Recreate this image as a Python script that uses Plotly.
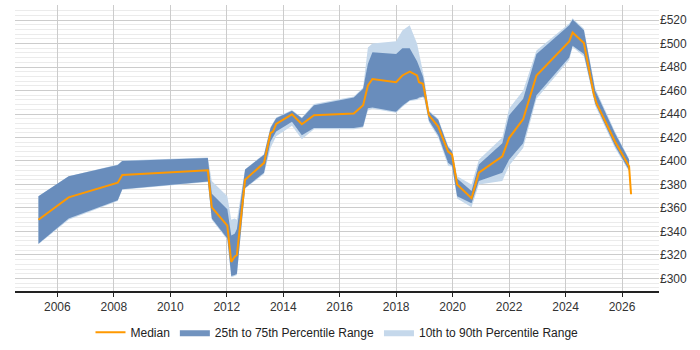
import plotly.graph_objects as go

# Band data (fractional years)
band_x = [2005.33, 2006.4, 2008.14, 2008.3, 2011.33, 2011.47, 2012.02, 2012.16, 2012.28, 2012.36,
          2012.65, 2013.32, 2013.55, 2013.75, 2014.31, 2014.66, 2015.09, 2016.5, 2016.83, 2017.0,
          2017.16, 2018.0, 2018.22, 2018.48, 2018.74, 2018.81, 2018.95, 2019.0, 2019.16, 2019.49,
          2019.84, 2019.98, 2020.16, 2020.67, 2020.93, 2021.76, 2022.0, 2022.5, 2022.97, 2024.13,
          2024.25, 2024.65, 2025.05, 2025.75, 2026.25]
p10 = [329, 350, 366, 375.5, 382, 350, 333, 301, 302, 303,
       376.5, 389, 411, 421, 430, 418.5, 427, 427, 428.5, 443,
       444.5, 441, 446, 451, 452, 453, 454, 452, 433, 420,
       396, 395, 368, 360.5, 380, 383, 396, 411, 453, 486,
       497, 489, 447, 411, 391]
p25 = [329.5, 351, 366.5, 376, 382.5, 351, 334, 302, 303, 304,
       377, 390, 416.6, 425, 433.5, 422, 428, 428, 429.3, 444.8,
       445.6, 442, 447, 451.8, 453, 454, 455, 454, 434.5, 422,
       398.4, 396, 370, 364, 383, 390, 401, 415, 456, 488,
       498, 491, 449, 413, 392]
p75 = [370, 387, 396.5, 400, 402.5, 372, 359, 336.5, 338, 342,
       392.7, 405.4, 428, 436.3, 442.8, 436.3, 447.5, 454, 461.6, 482.7,
       492.6, 491, 496, 496, 485, 480, 472, 466, 442, 435,
       412, 408, 385, 374.5, 397, 415, 439, 453, 491, 515.6,
       520.5, 511.3, 460, 423.7, 401]
p90 = [370, 387, 397, 400.5, 403, 383, 370, 350, 351, 350,
       393, 406, 429, 437, 443.5, 437, 448.5, 455, 462.5, 496.7,
       500, 502, 511, 515.6, 500, 492, 478, 470, 443, 436,
       413, 409, 387, 380, 401, 420, 444.7, 460, 494, 517,
       521.5, 512.5, 462, 425, 402]

# Median data
med_x = [2005.33, 2006.4, 2008.14, 2008.3, 2011.33, 2011.47, 2012.02, 2012.16, 2012.28, 2012.36,
         2012.65, 2013.32, 2013.55, 2013.64, 2013.75, 2014.31, 2014.66, 2015.09, 2016.5, 2016.83,
         2017.0, 2017.16, 2018.0, 2018.22, 2018.48, 2018.74, 2018.81, 2018.95, 2019.0, 2019.16,
         2019.49, 2019.84, 2019.98, 2020.16, 2020.67, 2020.93, 2021.76, 2022.0, 2022.5, 2022.97,
         2024.13, 2024.25, 2024.65, 2025.0, 2025.1, 2025.75, 2026.25, 2026.32]
median = [350, 369, 381.5, 388, 392, 360.5, 345, 314, 318.5, 320,
          384, 398.4, 423.7, 425, 431.5, 439.7, 431.3, 439, 440.5, 447.5,
          464.4, 469.8, 467, 472.8, 476, 472.8, 467, 465.7, 460, 439,
          429.3, 408, 405.4, 380, 368.3, 390, 404, 419.5, 435.7, 472.8,
          501.8, 509.4, 500.4, 457, 449, 416.6, 395.5, 371.7]

year_ticks = [2006, 2008, 2010, 2012, 2014, 2016, 2018, 2020, 2022, 2024, 2026]

dark = "rgba(88,128,180,0.85)"
light = "rgba(197,216,235,1)"
orange = "#ff9900"

fig = go.Figure()
fig.add_trace(go.Scatter(x=band_x, y=p90, mode="lines", line=dict(width=0, color=light),
                         showlegend=False, hoverinfo="skip"))
fig.add_trace(go.Scatter(x=band_x, y=p10, mode="lines", line=dict(width=0, color=light),
                         fill="tonexty", fillcolor=light, name="10th to 90th Percentile Range",
                         legendrank=3))
fig.add_trace(go.Scatter(x=band_x, y=p75, mode="lines", line=dict(width=0, color=dark),
                         showlegend=False, hoverinfo="skip"))
fig.add_trace(go.Scatter(x=band_x, y=p25, mode="lines", line=dict(width=0, color=dark),
                         fill="tonexty", fillcolor=dark, name="25th to 75th Percentile Range",
                         legendrank=2))
fig.add_trace(go.Scatter(x=med_x, y=median, mode="lines", line=dict(width=2, color=orange),
                         name="Median", legendrank=1))

fig.update_layout(
    width=700, height=350,
    margin=dict(l=15, r=41, t=5, b=57.5),
    paper_bgcolor="white", plot_bgcolor="white",
    font=dict(family="Liberation Sans, Arial, sans-serif", size=12, color="#333333"),
    showlegend=True,
    legend=dict(orientation="h", x=0.5, xanchor="center", y=-0.14, yanchor="middle",
                font=dict(size=12, color="#222222"), itemwidth=30, traceorder="normal"),
    xaxis=dict(
        range=[2004.5, 2027.31], tickmode="array", tickvals=year_ticks,
        ticktext=[str(y) for y in year_ticks],
        showgrid=True, gridcolor="#cccccc", gridwidth=1,
        showline=True, linecolor="#222222", linewidth=1.5,
        ticks="outside", ticklen=4, tickcolor="#222222",
        zeroline=False, tickfont=dict(size=12),
    ),
    yaxis=dict(
        range=[289.3, 532.8], side="right", dtick=20, tick0=0, tickprefix="£",
        showgrid=True, gridcolor="#cccccc", gridwidth=1,
        minor=dict(dtick=4, showgrid=True, gridcolor="#ebebeb", gridwidth=1),
        zeroline=False, showline=False, ticks="", tickfont=dict(size=12),
    ),
)

fig.write_html("out.html")
